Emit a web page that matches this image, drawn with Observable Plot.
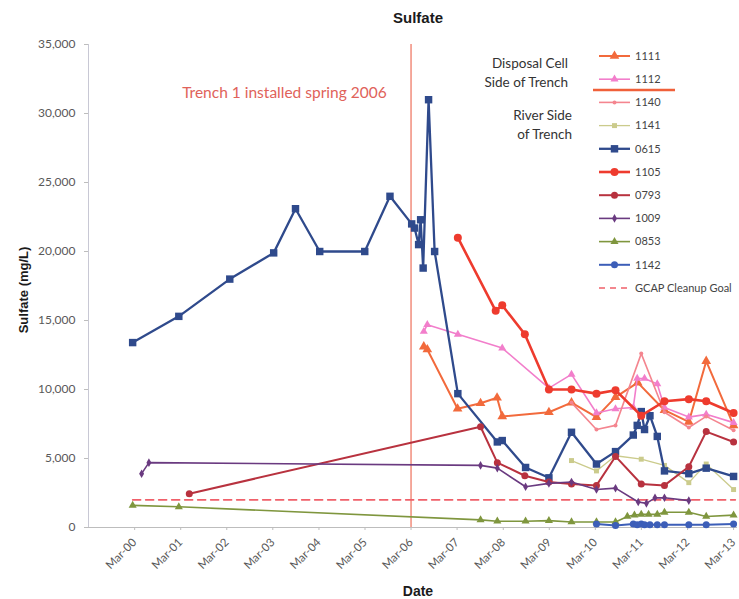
<!DOCTYPE html>
<html>
<head>
<meta charset="utf-8">
<script src="https://cdn.jsdelivr.net/npm/d3@7"></script>
<script src="https://cdn.jsdelivr.net/npm/@observablehq/plot@0.6"></script>
<style>
  body { margin: 0; background: #fff; }
  #chart { width: 739px; height: 599px; }
  svg { display: block; }
</style>
</head>
<body>
<div id="chart"></div>
<script>
// Sulfate concentrations (mg/L) by monitoring well, sampling dates as ISO strings.
const wells = ["1111", "1112", "1140", "1141", "0615", "1105", "0793", "1009", "0853", "1142"];

const dates1111 = ["2006-06-10","2006-07-08","2007-03-05","2007-09-03","2008-01-12","2008-02-22","2009-02-26","2009-08-24","2010-03-10","2010-08-08","2011-01-31","2011-08-31","2012-03-11","2012-07-27","2013-03-01"];
const sulfate1111 = [13100,12900,8600,9000,9400,8050,8350,9050,8000,9450,10500,8500,7650,12050,7400];

const dates1112 = ["2006-06-10","2006-07-08","2007-03-07","2008-02-22","2009-02-26","2009-08-24","2010-03-10","2010-08-08","2010-12-27","2011-01-27","2011-03-26","2011-07-05","2011-08-31","2012-03-11","2012-07-27","2013-03-01"];
const sulfate1112 = [14200,14700,14000,13000,10100,11100,8300,8600,8700,10800,10800,10400,8700,8000,8200,7600];

const dates1140 = ["2009-08-24","2010-03-10","2010-08-08","2011-02-28","2011-08-31","2012-03-11","2012-07-27","2013-03-01"];
const sulfate1140 = [9050,7100,7400,12600,8350,7250,8050,7050];

const dates1141 = ["2009-08-24","2010-03-10","2010-08-08","2011-02-28","2011-08-31","2012-03-11","2012-07-27","2013-03-01"];
const sulfate1141 = [4850,4100,5200,4950,4500,3250,4600,2750];

const dates0615 = ["2000-02-14","2001-02-14","2002-03-25","2003-03-08","2003-08-28","2004-03-07","2005-02-27","2005-09-15","2006-03-06","2006-03-29","2006-04-30","2006-05-16","2006-06-05","2006-07-18","2006-09-04","2007-03-07","2008-01-14","2008-02-22","2008-08-25","2009-02-26","2009-08-24","2010-03-10","2010-08-08","2010-12-27","2011-01-27","2011-02-28","2011-03-26","2011-05-08","2011-07-05","2011-08-31","2012-03-11","2012-07-27","2013-03-01"];
const sulfate0615 = [13400,15300,18000,19900,23100,20000,20000,24000,22000,21700,20500,22300,18800,31000,20000,9700,6200,6300,4350,3600,6900,4600,5500,6700,7400,8400,7100,8100,6600,4100,3900,4300,3700];

const dates1105 = ["2007-03-07","2008-01-01","2008-02-22","2008-08-19","2009-02-26","2009-08-24","2010-03-10","2010-08-08","2011-02-28","2011-08-31","2012-03-11","2012-07-27","2013-03-01"];
const sulfate1105 = [21000,15700,16100,14000,10000,10000,9700,9950,8100,9150,9300,9150,8300];

const dates0793 = ["2001-05-08","2007-09-03","2008-01-14","2008-08-19","2009-02-26","2009-08-24","2010-03-10","2010-08-08","2011-02-28","2011-08-31","2012-03-11","2012-07-27","2013-03-01"];
const sulfate0793 = [2450,7300,4700,3750,3300,3150,3050,5150,3150,3050,4400,6950,6200];

const dates1009 = ["2000-04-25","2000-06-22","2007-09-03","2008-01-14","2008-08-25","2009-02-26","2009-08-24","2010-03-10","2010-08-08","2011-02-04","2011-04-10","2011-06-17","2011-08-31","2012-03-11"];
const sulfate1009 = [3900,4700,4500,4300,2950,3200,3300,2750,2850,1850,1750,2150,2150,1950];

const dates0853 = ["2000-02-14","2001-02-14","2007-09-03","2008-01-14","2008-08-25","2009-02-26","2009-08-24","2010-03-10","2010-08-08","2010-11-10","2011-01-05","2011-02-28","2011-04-27","2011-07-05","2011-08-31","2012-03-11","2012-07-27","2013-03-01"];
const sulfate0853 = [1600,1500,550,450,450,500,400,400,400,800,900,950,950,950,1100,1100,800,900];

const dates1142 = ["2010-03-10","2010-08-08","2010-12-27","2011-01-27","2011-02-28","2011-03-26","2011-05-08","2011-07-05","2011-08-31","2012-03-11","2012-07-27","2013-03-01"];
const sulfate1142 = [250,150,250,200,250,200,200,200,200,200,200,250];

// GCAP cleanup goal and trench installation date
const goalDates = ["2000-02-14", "2013-03-15"];
const goalValue = 2000;
const trenchDate = "2006-03-01";
const trenchNote = "Trench 1 installed spring 2006";

// Axis ticks
const xTickDates = ["2000-03-01","2001-03-01","2002-03-01","2003-03-01","2004-03-01","2005-03-01","2006-03-01","2007-03-01","2008-03-01","2009-03-01","2010-03-01","2011-03-01","2012-03-01","2013-03-01"];
const yTicks = [0, 5000, 10000, 15000, 20000, 25000, 30000, 35000];
const xDomain = ["1999-03-01", "2013-04-01"];

const seriesData = {
  "1111": [dates1111, sulfate1111], "1112": [dates1112, sulfate1112], "1140": [dates1140, sulfate1140],
  "1141": [dates1141, sulfate1141], "0615": [dates0615, sulfate0615], "1105": [dates1105, sulfate1105],
  "0793": [dates0793, sulfate0793], "1009": [dates1009, sulfate1009], "0853": [dates0853, sulfate0853],
  "1142": [dates1142, sulfate1142]
};

// Line and marker styling per well
const style = {
  "1111": {color: "#F26A3C", symbol: "triangle", r: 3.6, width: 2},
  "1112": {color: "#F27ECB", symbol: "triangle", r: 3, width: 1.6},
  "1140": {color: "#F4858F", symbol: "circle", r: 2, width: 1.6},
  "1141": {color: "#CBCB8C", symbol: "square", r: 2.8, width: 1.3},
  "0615": {color: "#2F4A8C", symbol: "square", r: 4.2, width: 2.3},
  "1105": {color: "#EE3B2E", symbol: "circle", r: 4, width: 2.6},
  "0793": {color: "#B8323F", symbol: "circle", r: 3.5, width: 2},
  "1009": {color: "#6A3A80", symbol: "diamond", r: 2.6, width: 1.6},
  "0853": {color: "#7F963E", symbol: "triangle", r: 3, width: 1.6},
  "1142": {color: "#3C5EB8", symbol: "circle", r: 3.5, width: 2}
};
const goalColor = "#F0606A";
const trenchColor = "#F29484";

const parse = d3.utcParse("%Y-%m-%d");
const rows = wells.map(w => {
  const [ds, vs] = seriesData[w];
  return ds.map((d, i) => ({well: w, date: parse(d), value: vs[i]}));
});
const goalRows = goalDates.map(d => ({date: parse(d), value: goalValue}));

const seriesMarks = wells.flatMap((w, i) => [
  Plot.line(rows[i], {x: "date", y: "value", stroke: style[w].color, strokeWidth: style[w].width}),
  Plot.dot(rows[i], {x: "date", y: "value", symbol: style[w].symbol, r: style[w].r, fill: style[w].color, stroke: "none"})
]);

const chart = Plot.plot({
  width: 739,
  height: 599,
  marginLeft: 88,
  marginRight: 2,
  marginTop: 44,
  marginBottom: 72,
  style: {fontFamily: "Lato, 'Liberation Sans', sans-serif", background: "#fff", color: "#595959"},
  x: {type: "utc", domain: xDomain.map(parse)},
  y: {domain: [0, 35000]},
  marks: [
    Plot.ruleX([parse(xDomain[0])], {stroke: "#c8c8d4"}),
    Plot.ruleY([0], {stroke: "#bdbdbd"}),
    Plot.axisY({ticks: yTicks, tickFormat: d3.format(","), tickSize: 4, tickPadding: 9, fontSize: 12, label: null}),
    Plot.axisX({ticks: xTickDates.map(parse), tickFormat: d3.utcFormat("%b-%y"), tickRotate: -45, tickSize: 3, tickPadding: 10, fontSize: 11.5, label: null}),
    Plot.ruleX([parse(trenchDate)], {stroke: trenchColor, strokeWidth: 1.6}),
    Plot.text([trenchNote], {x: parse("2003-06-01"), y: 31500, text: d => d, fill: "#E0625A", fontSize: 15.5, textAnchor: "middle"}),
    Plot.line(goalRows, {x: "date", y: "value", stroke: goalColor, strokeWidth: 1.6, strokeDasharray: "8,5"}),
    ...seriesMarks
  ]
});
document.getElementById("chart").appendChild(chart);

const svg = d3.select(chart);
svg.selectAll('g[aria-label="y-axis tick"], g[aria-label="x-axis tick"]').attr("stroke", "#bdbdbd");
svg.selectAll('g[aria-label="y-axis tick label"], g[aria-label="x-axis tick label"]').attr("fill", "#595959");

// Titles
const bold = "'Liberation Sans', Arial, sans-serif";
svg.append("text").attr("x", 418).attr("y", 23).attr("text-anchor", "middle")
  .attr("font-family", bold).attr("font-weight", "bold").attr("font-size", 15).attr("fill", "#1a1a1a").text("Sulfate");
svg.append("text").attr("x", 418).attr("y", 596).attr("text-anchor", "middle")
  .attr("font-family", bold).attr("font-weight", "bold").attr("font-size", 14).attr("fill", "#1a1a1a").text("Date");
svg.append("text").attr("transform", "translate(28,290) rotate(-90)").attr("text-anchor", "middle")
  .attr("font-family", bold).attr("font-weight", "bold").attr("font-size", 13).attr("fill", "#1a1a1a").text("Sulfate (mg/L)");

// Legend
const legend = svg.append("g").attr("font-family", "Lato, sans-serif").attr("text-anchor", "start");
const legendY = i => 56 + i * 23.2;
wells.forEach((w, i) => {
  const y = legendY(i);
  legend.append("line").attr("x1", 599).attr("x2", 630).attr("y1", y).attr("y2", y)
    .attr("stroke", style[w].color).attr("stroke-width", style[w].width);
  const sym = {triangle: d3.symbolTriangle, square: d3.symbolSquare, circle: d3.symbolCircle, diamond: d3.symbolDiamond}[style[w].symbol];
  legend.append("path").attr("transform", `translate(614.5,${y})`)
    .attr("d", d3.symbol(sym, Math.PI * style[w].r * style[w].r)()).attr("fill", style[w].color);
  legend.append("text").attr("x", 635).attr("y", y).attr("dy", "0.35em").attr("text-anchor", "start")
    .attr("font-size", 11).attr("fill", "#444").text(w);
});
{
  const y = legendY(wells.length);
  legend.append("line").attr("x1", 599).attr("x2", 630).attr("y1", y).attr("y2", y)
    .attr("stroke", goalColor).attr("stroke-width", 1.6).attr("stroke-dasharray", "6,5");
  legend.append("text").attr("x", 635).attr("y", y).attr("dy", "0.35em").attr("text-anchor", "start")
    .attr("font-size", 11).attr("fill", "#444").text("GCAP Cleanup Goal");
}
// Group labels beside the legend
const groupLabel = (x, y, t) => legend.append("text").attr("x", x).attr("y", y).attr("dy", "0.35em")
  .attr("text-anchor", "end").attr("font-size", 13.5).attr("fill", "#333").text(t);
groupLabel(568, 63, "Disposal Cell");
groupLabel(568, 82, "Side of Trench");
groupLabel(572, 115, "River Side");
groupLabel(572, 134, "of Trench");
legend.append("line").attr("x1", 593).attr("x2", 675).attr("y1", 90).attr("y2", 90)
  .attr("stroke", "#F0603A").attr("stroke-width", 2.5);
</script>
</body>
</html>
